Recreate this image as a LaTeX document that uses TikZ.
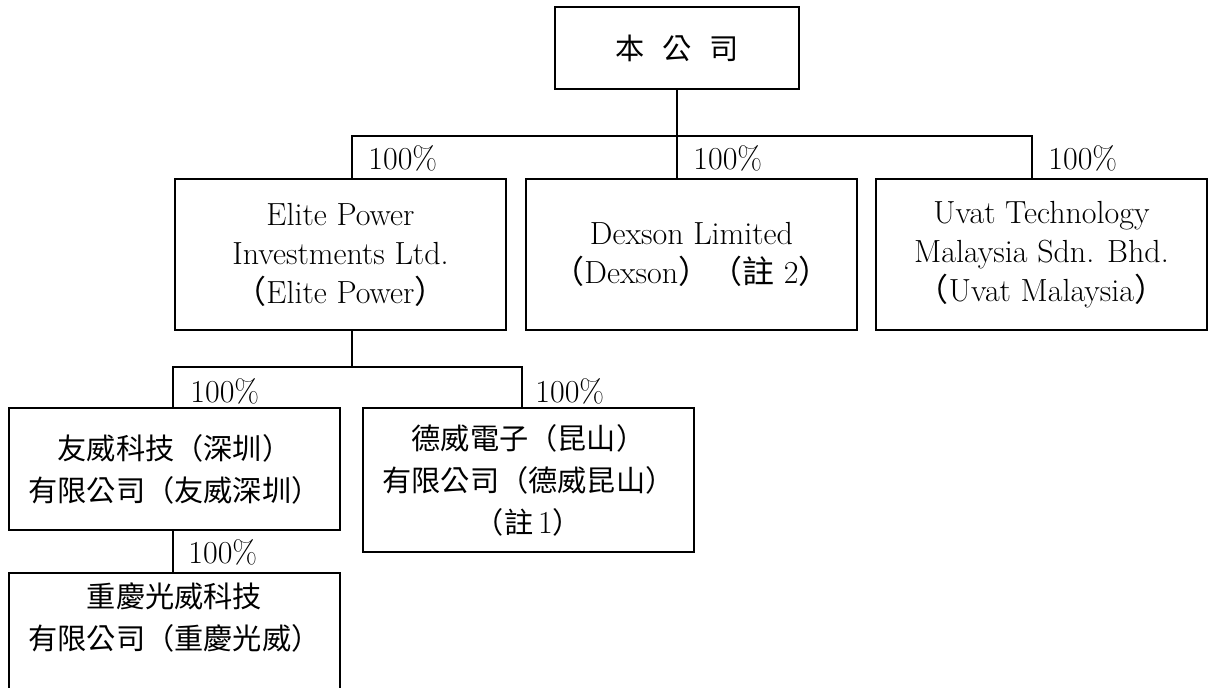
\documentclass[tikz,border=0pt]{standalone}
\usepackage{fontspec}
\newfontfamily\cjk{Noto Sans CJK TC}
\usepackage{tikz}
\usetikzlibrary{positioning}

\begin{document}
\begin{tikzpicture}[x=0.5pt, y=-0.5pt,
  orgbox/.style = {draw, line width=1pt, align=center, inner sep=0pt, minimum width=165.5pt, font=\fontsize{16}{19.5}\selectfont},
  cjkbox/.style = {orgbox, font=\cjk\fontsize{14.6}{21}\selectfont},
  pct/.style = {anchor=west, inner sep=0pt, font=\fontsize{16}{17}\selectfont},
  link/.style = {line width=0.75pt}]
\useasboundingbox (0,0) rectangle (1209,688);

\node[cjkbox, minimum width=122pt, minimum height=41pt] (top) at (677,48) {本\hspace{0.6em}公\hspace{0.6em}司};
\node[orgbox, minimum height=75.5pt] (elite) at (340.5,254.5) {Elite Power\\Investments Ltd.\\{\cjk （}Elite Power{\cjk ）}};
\node[orgbox, minimum height=75.5pt] (dexson) at (691.5,254.5) {Dexson Limited\\{\cjk （}Dexson{\cjk ）（註} 2{\cjk ）}};
\node[orgbox, minimum height=75.5pt] (uvat) at (1041.5,255) {Uvat Technology\\Malaysia Sdn. Bhd.\\{\cjk （}Uvat Malaysia{\cjk ）}};
\node[cjkbox, minimum height=61pt] (youwei) at (174.5,469) {友威科技（深圳）\\有限公司（友威深圳）};
\node[cjkbox, minimum height=72pt] (dewei) at (528.5,480) {德威電子（昆山）\\有限公司（德威昆山）\\（註\,{\rmfamily\fontsize{16}{21}\selectfont 1}）};
\node[cjkbox, anchor=north, inner ysep=5pt, text depth=60pt] (chong) at (174.5,572) {重慶光威科技\\有限公司（重慶光威）};

\node[pct] (pE) at (368,158) {100\%};
\node[pct] (pD) at (693,158) {100\%};
\node[pct] (pU) at (1048,158) {100\%};
\node[pct] (pY) at (190,391) {100\%};
\node[pct] (pK) at (535,391) {100\%};
\node[pct] (pC) at (188,552) {100\%};

\coordinate (bus1) at (677,136);
\coordinate (bus2) at (352,367);
\coordinate (dropU) at (1032,0);
\coordinate (dropY) at (173,0);
\coordinate (dropK) at (522,0);
\draw[link] (top) -- (bus1);
\draw[link] (elite.north -| bus2) |- (bus1) -| (uvat.north -| dropU);
\draw[link] (bus1) -- (dexson.north -| bus1);
\draw[link] (elite.south -| bus2) -- (bus2);
\draw[link] (youwei.north -| dropY) |- (bus2) -| (dewei.north -| dropK);
\draw[link] (youwei.south -| dropY) -- (chong.north -| dropY);
\end{tikzpicture}
\end{document}
